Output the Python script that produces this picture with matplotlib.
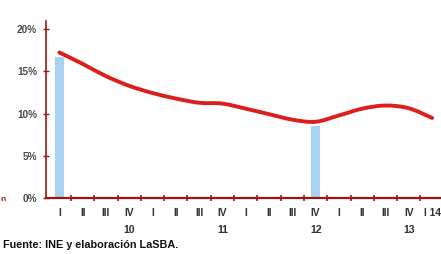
import numpy as np
import matplotlib
matplotlib.use("Agg")
import matplotlib.pyplot as plt
from matplotlib.path import Path
from matplotlib.patches import PathPatch
import matplotlib.transforms as mtransforms

# Data (quarters 2010 I .. 2014 I)
quarters = ["I", "II", "III", "IV", "I", "II", "III", "IV", "I", "II", "III", "IV",
            "I", "II", "III", "IV", "I 14"]
years = ["10", "11", "12", "13"]
year_pos = [3, 7, 11, 15]
rate = [17.25, 15.9, 14.45, 13.3, 12.45, 11.8, 11.3, 11.2, 10.6, 9.95, 9.3, 9.05,
        9.8, 10.6, 10.97, 10.65, 9.5]
bar_pos = [0, 11]
bar_val = [16.7, 8.5]

plt.rcParams['font.family'] = ['Liberation Sans', 'DejaVu Sans']

fig = plt.figure(figsize=(4.41, 2.54), dpi=100)
ax = fig.add_axes([0.1032, 0.2193, 0.8968, 0.699])

x = np.arange(len(rate))
ax.bar(bar_pos, bar_val, width=0.39, color='#a9d1f0', zorder=1)

# smooth curve through the points (Catmull-Rom -> cubic bezier)
pts = np.column_stack([x, rate]).astype(float)
verts = [tuple(pts[0])]
codes = [Path.MOVETO]
for i in range(len(pts) - 1):
    p0 = pts[i - 1] if i > 0 else pts[i]
    p1 = pts[i]
    p2 = pts[i + 1]
    p3 = pts[i + 2] if i + 2 < len(pts) else pts[i + 1]
    c1 = p1 + (p2 - p0) / 6.0
    c2 = p2 - (p3 - p1) / 6.0
    verts += [tuple(c1), tuple(c2), tuple(p2)]
    codes += [Path.CURVE4, Path.CURVE4, Path.CURVE4]
ax.add_patch(PathPatch(Path(verts, codes), facecolor='none', edgecolor='#dc1f1c',
                       lw=2.8, capstyle='round', zorder=3))

ax.set_xlim(-0.594, 16.38)
ax.set_ylim(0, 21)

for s in ['top', 'right']:
    ax.spines[s].set_visible(False)
ax.spines['left'].set_color('#9c1414')
ax.spines['left'].set_linewidth(1.2)
ax.spines['bottom'].set_color('#9c1414')
ax.spines['bottom'].set_linewidth(1.6)

ax.set_yticks([0, 5, 10, 15, 20])
ax.set_yticklabels(['0%', '5%', '10%', '15%', '20%'])
ax.tick_params(axis='y', direction='inout', length=4, width=1, color='#9c1414',
               labelsize=7.2, labelcolor='#4a4a4a', pad=4)
for lab in ax.get_yticklabels():
    lab.set_fontweight('bold')

ax.set_xticks(np.arange(0.5, 16, 1))
ax.set_xticklabels([])
ax.tick_params(axis='x', direction='inout', length=5, width=1.2, color='#9c1414')

trans = mtransforms.blended_transform_factory(ax.transData, ax.transAxes)
for i, q in enumerate(quarters):
    ax.text(i, -0.083, q, transform=trans, ha='center', va='center',
            fontsize=7.4, color='#333333', fontweight='bold')
for p, yr in zip(year_pos, years):
    ax.text(p, -0.178, yr, transform=trans, ha='center', va='center',
            fontsize=7.6, color='#333333', fontweight='bold')

fig.text(0.006, 0.035, "Fuente: INE y elaboración LaSBA.", fontsize=7.8,
         fontweight='bold', color='#111111', ha='left', va='center')
fig.text(0.0, 0.215, "n", fontsize=6, fontweight='bold', color='#b01818',
         ha='left', va='center')

fig.savefig("out.png", dpi=100)
